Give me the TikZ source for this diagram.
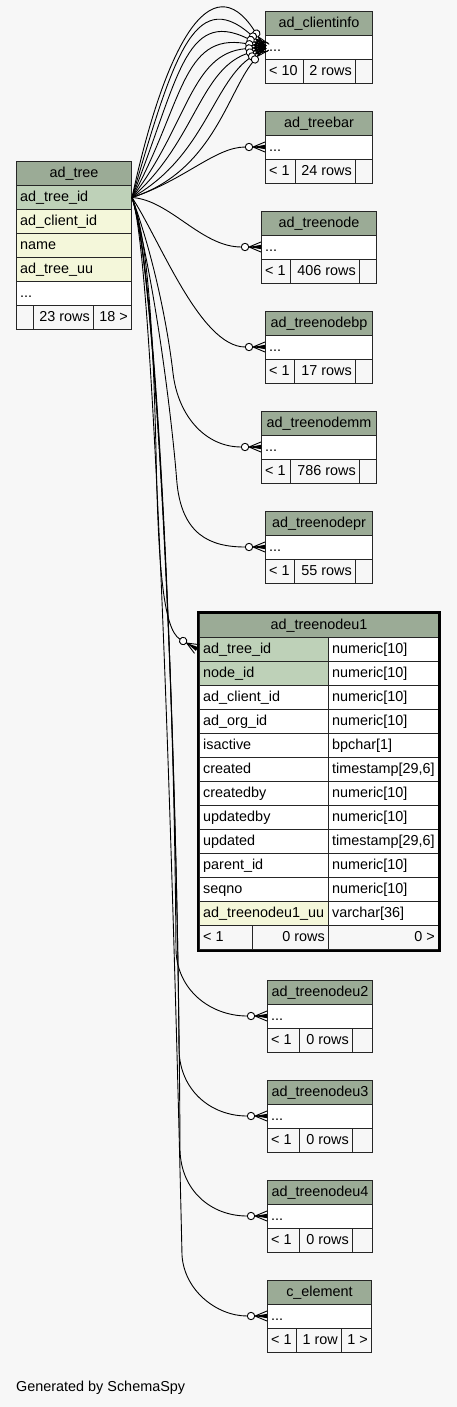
\documentclass[tikz,border=0pt]{standalone}
\usepackage{fontspec}
\setmainfont{Liberation Sans}
\definecolor{bgc}{HTML}{F7F7F7}
\definecolor{hdr}{HTML}{9BAB96}
\definecolor{pk}{HTML}{BED1B8}
\definecolor{idx}{HTML}{F4F7DA}
\definecolor{foot}{HTML}{F7F7F7}
\newcommand\tabfont{\fontsize{14.4}{16}\selectfont}
\newcommand\cbox[5]{\node[cellbox,fill=#5,minimum width={#4-#2}] (#1) at (#2,#3) {};}
\newcommand\ltext[2]{\node[txt,anchor=base west] (#1-t) at ([xshift=4pt,yshift=-16.5pt]#1.north west) {#2};}
\newcommand\ctext[2]{\node[txt,anchor=base] (#1-t) at ([yshift=-16.5pt]#1.north) {#2};}
\newcommand\rtext[2]{\node[txt,anchor=base east] (#1-t) at ([xshift=-4pt,yshift=-16.5pt]#1.north east) {#2};}
% id, x1, x2, ytop, title, xa, xb, left footer, count
\newcommand\smalltab[9]{%
 \cbox{#1-h}{#2}{#4}{#3}{hdr}\ctext{#1-h}{#5}
 \cbox{#1-b}{#2}{#4+24}{#3}{white}\ltext{#1-b}{...}
 \cbox{#1-f1}{#2}{#4+48}{#6}{foot}\ltext{#1-f1}{#8}
 \cbox{#1-f2}{#6}{#4+48}{#7}{foot}\rtext{#1-f2}{#9}
 \cbox{#1-f3}{#7}{#4+48}{#3}{foot}}
% crow's foot end: name, tip x, tip y, angle (deg, positive = heading down), control distance
\newcommand\crowend[5]{%
 \begin{scope}[shift={(#2,#3)},rotate=-#4]
  \coordinate (#1) at (-19.7,0);
  \coordinate (#1c) at ({-19.7-#5},0);
  \draw[edge] (-12,0) -- (0,-5) (-12,0) -- (0,5) (-12,0) -- (0,0);
  \fill[black] (-12,0) -- (0,-2.2) -- (0,2.2) -- cycle;
  \draw[edge,fill=white] (-16,0) circle (3.7);
 \end{scope}}
\begin{document}
\begin{tikzpicture}[x=1pt,y=-1pt,
  cellbox/.style={draw=black!85,line width=1pt,inner sep=0pt,minimum height=24pt,anchor=north west},
  txt/.style={inner sep=0pt,font=\tabfont,text=black},
  edge/.style={draw=black,line width=0.9pt}]
\fill[bgc] (0,0) rectangle (457,1407);
\useasboundingbox (0,0) rectangle (457,1407);

% ---------- ad_tree
\cbox{tree-h}{16}{161}{131}{hdr}\ctext{tree-h}{ad\_tree}
\cbox{treeid}{16}{185}{131}{pk}\ltext{treeid}{ad\_tree\_id}
\cbox{tree-c}{16}{209}{131}{idx}\ltext{tree-c}{ad\_client\_id}
\cbox{tree-n}{16}{233}{131}{idx}\ltext{tree-n}{name}
\cbox{tree-u}{16}{257}{131}{idx}\ltext{tree-u}{ad\_tree\_uu}
\cbox{tree-d}{16}{281}{131}{white}\ltext{tree-d}{...}
\cbox{tree-f1}{16}{305}{33}{foot}
\cbox{tree-f2}{33}{305}{93}{foot}\rtext{tree-f2}{23 rows}
\cbox{tree-f3}{93}{305}{131}{foot}\rtext{tree-f3}{18 >}

% ---------- small tables
\smalltab{ci}{265}{372}{11}{ad\_clientinfo}{303}{355}{< 10}{2 rows}
\smalltab{tb}{265}{372}{111}{ad\_treebar}{295}{355}{< 1}{24 rows}
\smalltab{tn}{261}{376}{211}{ad\_treenode}{290}{359}{< 1}{406 rows}
\smalltab{bp}{265}{372}{311}{ad\_treenodebp}{294}{355}{< 1}{17 rows}
\smalltab{mm}{261}{376}{411}{ad\_treenodemm}{290}{359}{< 1}{786 rows}
\smalltab{pr}{265}{372}{511}{ad\_treenodepr}{294}{355}{< 1}{55 rows}
\smalltab{u2}{267}{372}{980}{ad\_treenodeu2}{299}{352}{< 1}{0 rows}
\smalltab{u3}{267}{372}{1080}{ad\_treenodeu3}{299}{352}{< 1}{0 rows}
\smalltab{u4}{267}{372}{1180}{ad\_treenodeu4}{299}{352}{< 1}{0 rows}
\smalltab{ce}{267}{371}{1280}{c\_element}{296}{341}{< 1}{1 row}
\rtext{ce-f3}{1 >}

% ---------- ad_treenodeu1
\cbox{u1-h}{199}{613}{438}{hdr}\ctext{u1-h}{ad\_treenodeu1}
\cbox{u1-a}{199}{637}{328}{pk}\ltext{u1-a}{ad\_tree\_id}
\cbox{u1-at}{328}{637}{438}{white}\ltext{u1-at}{numeric[10]}
\cbox{u1-b}{199}{661}{328}{pk}\ltext{u1-b}{node\_id}
\cbox{u1-bt}{328}{661}{438}{white}\ltext{u1-bt}{numeric[10]}
\cbox{u1-c}{199}{685}{328}{white}\ltext{u1-c}{ad\_client\_id}
\cbox{u1-ct}{328}{685}{438}{white}\ltext{u1-ct}{numeric[10]}
\cbox{u1-d}{199}{709}{328}{white}\ltext{u1-d}{ad\_org\_id}
\cbox{u1-dt}{328}{709}{438}{white}\ltext{u1-dt}{numeric[10]}
\cbox{u1-e}{199}{733}{328}{white}\ltext{u1-e}{isactive}
\cbox{u1-et}{328}{733}{438}{white}\ltext{u1-et}{bpchar[1]}
\cbox{u1-f}{199}{757}{328}{white}\ltext{u1-f}{created}
\cbox{u1-ft}{328}{757}{438}{white}\ltext{u1-ft}{timestamp[29,6]}
\cbox{u1-g}{199}{781}{328}{white}\ltext{u1-g}{createdby}
\cbox{u1-gt}{328}{781}{438}{white}\ltext{u1-gt}{numeric[10]}
\cbox{u1-i}{199}{805}{328}{white}\ltext{u1-i}{updatedby}
\cbox{u1-it}{328}{805}{438}{white}\ltext{u1-it}{numeric[10]}
\cbox{u1-j}{199}{829}{328}{white}\ltext{u1-j}{updated}
\cbox{u1-jt}{328}{829}{438}{white}\ltext{u1-jt}{timestamp[29,6]}
\cbox{u1-k}{199}{853}{328}{white}\ltext{u1-k}{parent\_id}
\cbox{u1-kt}{328}{853}{438}{white}\ltext{u1-kt}{numeric[10]}
\cbox{u1-l}{199}{877}{328}{white}\ltext{u1-l}{seqno}
\cbox{u1-lt}{328}{877}{438}{white}\ltext{u1-lt}{numeric[10]}
\cbox{u1-m}{199}{901}{328}{idx}\ltext{u1-m}{ad\_treenodeu1\_uu}
\cbox{u1-mt}{328}{901}{438}{white}\ltext{u1-mt}{varchar[36]}
\cbox{u1-f1}{199}{925}{252}{foot}\ltext{u1-f1}{< 1}
\cbox{u1-f2}{252}{925}{328}{foot}\rtext{u1-f2}{0 rows}
\cbox{u1-f3}{328}{925}{438}{foot}\rtext{u1-f3}{0 >}
\draw[line width=2.6pt,black] (198,612.2) rectangle (439.5,950.8);

% ---------- crow's foot ends
\crowend{ci0}{265}{47}{57}{80}
\crowend{ci1}{265}{47}{41}{75}
\crowend{ci2}{265}{47}{26}{70}
\crowend{ci3}{265}{47}{10}{65}
\crowend{ci4}{265}{47}{-5}{55}
\crowend{ci5}{265}{47}{-20}{50}
\crowend{ci6}{265}{47}{-36}{45}
\crowend{ci7}{265}{47}{-51}{40}
\crowend{etb}{265}{147}{0}{30}
\crowend{etn}{261}{247}{0}{40}
\crowend{ebp}{265}{347}{0}{45}
\crowend{emm}{261}{447}{0}{36}
\crowend{epr}{265}{547}{0}{35}
\crowend{eu1}{197}{649}{30}{20}
\crowend{eu2}{267}{1016}{0}{37}
\crowend{eu3}{267}{1116}{0}{37}
\crowend{eu4}{267}{1216}{0}{37}
\crowend{ece}{267}{1316}{0}{31}

% ---------- connectors
\draw[edge] (treeid.east) .. controls (165,45) and (ci0c) .. (ci0);
\draw[edge] (treeid.east) .. controls (172,62) and (ci1c) .. (ci1);
\draw[edge] (treeid.east) .. controls (178,82) and (ci2c) .. (ci2);
\draw[edge] (treeid.east) .. controls (183,105) and (ci3c) .. (ci3);
\draw[edge] (treeid.east) .. controls (188,125) and (ci4c) .. (ci4);
\draw[edge] (treeid.east) .. controls (195,142) and (ci5c) .. (ci5);
\draw[edge] (treeid.east) .. controls (203,158) and (ci6c) .. (ci6);
\draw[edge] (treeid.east) .. controls (212,172) and (ci7c) .. (ci7);
\draw[edge] (treeid.east) .. controls (185,180) and (etbc) .. (etb);
\draw[edge] (treeid.east) .. controls (170,200) and (etnc) .. (etn);
\draw[edge] (treeid.east) .. controls (160,240) and (ebpc) .. (ebp);
\draw[edge] (treeid.east) .. controls (155,260) and (168,330) .. (173,373)
  .. controls (178,416) and (emmc) .. (emm);
\draw[edge] (treeid.east) .. controls (155,280) and (172,420) .. (176.7,480)
  .. controls (181,535) and (eprc) .. (epr);
\draw[edge] (treeid.east) .. controls (148,240) and (153,330) .. (156,450)
  .. controls (158,560) and (eu1c) .. (eu1);
\draw[edge] (treeid.east) .. controls (155,260) and (174,650) .. (176,950)
  .. controls (177,990) and (eu2c) .. (eu2);
\draw[edge] (treeid.east) .. controls (155,260) and (176,700) .. (179,1050)
  .. controls (180,1090) and (eu3c) .. (eu3);
\draw[edge] (treeid.east) .. controls (155,260) and (178,700) .. (180,1150)
  .. controls (181,1190) and (eu4c) .. (eu4);
\draw[edge] (treeid.east) .. controls (155,260) and (174,900) .. (182,1255)
  .. controls (184,1290) and (ecec) .. (ece);

% ---------- footer
\node[txt,anchor=base west] (gen) at (16,1391) {Generated by SchemaSpy};
\end{tikzpicture}
\end{document}
